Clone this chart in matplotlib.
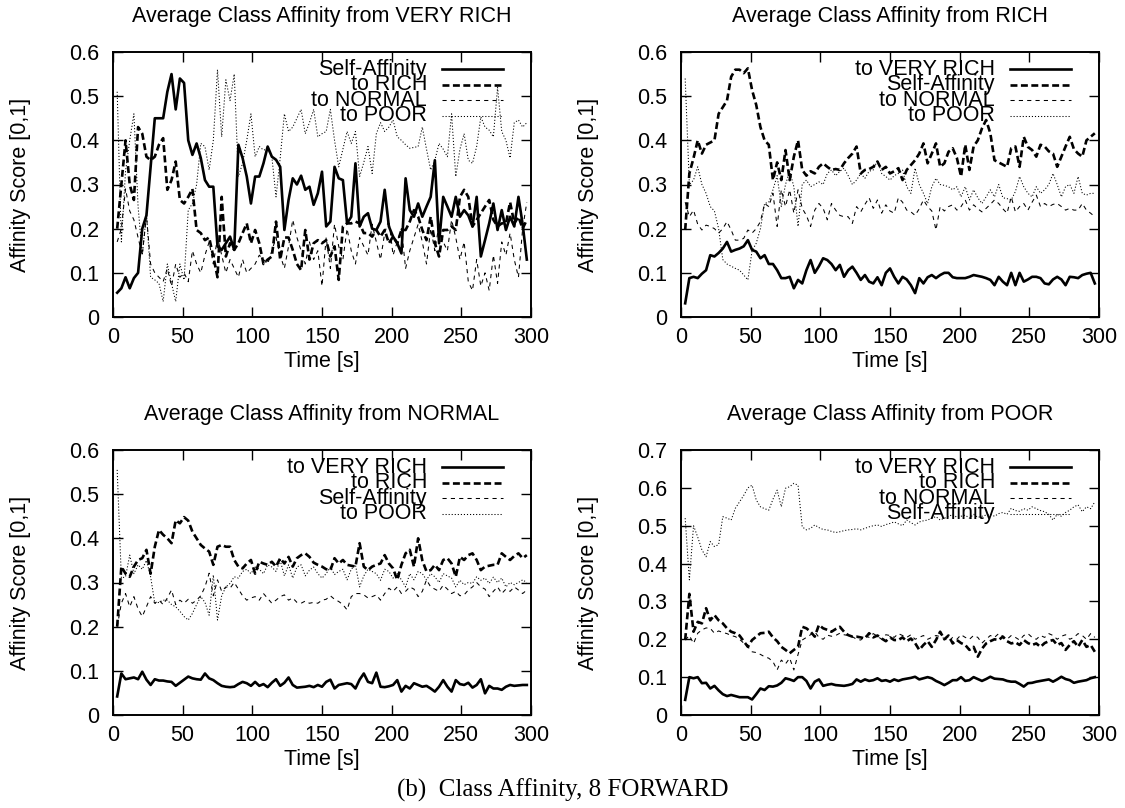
import numpy as np
import matplotlib
matplotlib.use("Agg")
import matplotlib.pyplot as plt
from matplotlib.ticker import FuncFormatter

# sample time of every point [s]
time_s = list(range(3, 300, 3))

# ---- from VERY RICH ----
vr_self = [0.055, 0.065, 0.09, 0.065, 0.088, 0.10, 0.20, 0.23, 0.34, 0.45,
           0.45, 0.45, 0.51, 0.55, 0.47, 0.54, 0.53, 0.40, 0.367, 0.393,
           0.36, 0.31, 0.295, 0.295, 0.16, 0.152, 0.167, 0.182, 0.152, 0.39,
           0.36, 0.318, 0.257, 0.318, 0.318, 0.348, 0.386, 0.363, 0.356, 0.34,
           0.197, 0.265, 0.314, 0.30, 0.32, 0.288, 0.295, 0.254, 0.28, 0.329,
           0.205, 0.216, 0.34, 0.314, 0.31, 0.212, 0.227, 0.348, 0.205, 0.227,
           0.235, 0.20, 0.197, 0.216, 0.288, 0.205, 0.182, 0.167, 0.144, 0.314,
           0.242, 0.227, 0.257, 0.227, 0.25, 0.272, 0.355, 0.167, 0.272, 0.25,
           0.227, 0.272, 0.227, 0.242, 0.23, 0.205, 0.272, 0.137, 0.174, 0.212,
           0.257, 0.197, 0.242, 0.197, 0.227, 0.205, 0.272, 0.21, 0.13]
vr_rich = [0.20, 0.30, 0.40, 0.30, 0.265, 0.43, 0.415, 0.363, 0.355, 0.363,
           0.39, 0.405, 0.288, 0.31, 0.352, 0.265, 0.257, 0.272, 0.29, 0.197,
           0.19, 0.174, 0.18, 0.137, 0.09, 0.272, 0.137, 0.167, 0.152, 0.167,
           0.19, 0.212, 0.167, 0.197, 0.167, 0.12, 0.13, 0.137, 0.216, 0.13,
           0.18, 0.18, 0.152, 0.12, 0.106, 0.197, 0.13, 0.167, 0.174, 0.167,
           0.174, 0.137, 0.16, 0.084, 0.205, 0.212, 0.212, 0.216, 0.212, 0.19,
           0.19, 0.182, 0.197, 0.182, 0.197, 0.167, 0.182, 0.167, 0.197, 0.197,
           0.216, 0.242, 0.227, 0.197, 0.174, 0.227, 0.167, 0.137, 0.197, 0.197,
           0.205, 0.197, 0.272, 0.288, 0.272, 0.205, 0.22, 0.235, 0.25, 0.265,
           0.22, 0.205, 0.212, 0.212, 0.26, 0.212, 0.227, 0.2, 0.22]
vr_normal = [0.17, 0.2, 0.29, 0.24, 0.22, 0.18, 0.14, 0.23, 0.12, 0.10,
             0.09, 0.08, 0.11, 0.07, 0.12, 0.09, 0.10, 0.08, 0.15, 0.12,
             0.10, 0.14, 0.17, 0.12, 0.18, 0.14, 0.10, 0.13, 0.11, 0.09,
             0.13, 0.10, 0.11, 0.12, 0.14, 0.13, 0.12, 0.15, 0.18, 0.14,
             0.11, 0.16, 0.22, 0.18, 0.15, 0.12, 0.17, 0.13, 0.15, 0.07,
             0.18, 0.11, 0.21, 0.16, 0.13, 0.20, 0.15, 0.12, 0.18, 0.16,
             0.14, 0.21, 0.17, 0.13, 0.19, 0.22, 0.14, 0.17, 0.20, 0.11,
             0.15, 0.18, 0.21, 0.17, 0.12, 0.20, 0.15, 0.21, 0.17, 0.15,
             0.22, 0.18, 0.13, 0.17, 0.08, 0.06, 0.13, 0.07, 0.10, 0.06,
             0.14, 0.076, 0.17, 0.14, 0.19, 0.13, 0.09, 0.20, 0.26]
vr_poor = [0.51, 0.17, 0.33, 0.40, 0.46, 0.25, 0.14, 0.235, 0.09, 0.084,
           0.076, 0.035, 0.12, 0.076, 0.035, 0.12, 0.084, 0.242, 0.257, 0.30,
           0.393, 0.386, 0.333, 0.40, 0.56, 0.408, 0.537, 0.49, 0.55, 0.318,
           0.348, 0.40, 0.46, 0.363, 0.386, 0.378, 0.38, 0.363, 0.272, 0.36,
           0.46, 0.42, 0.43, 0.45, 0.47, 0.415, 0.44, 0.47, 0.408, 0.415,
           0.42, 0.47, 0.40, 0.34, 0.38, 0.42, 0.393, 0.42, 0.318, 0.35,
           0.386, 0.325, 0.415, 0.44, 0.42, 0.43, 0.446, 0.408, 0.40, 0.39,
           0.382, 0.384, 0.386, 0.43, 0.38, 0.333, 0.355, 0.393, 0.38, 0.363,
           0.46, 0.318, 0.38, 0.415, 0.355, 0.348, 0.386, 0.453, 0.43, 0.423,
           0.408, 0.52, 0.42, 0.40, 0.36, 0.44, 0.446, 0.43, 0.44]

# ---- from RICH ----
r_vrich = [0.031, 0.088, 0.091, 0.088, 0.098, 0.106, 0.14, 0.137, 0.145, 0.155,
           0.17, 0.148, 0.152, 0.155, 0.16, 0.174, 0.152, 0.148, 0.133, 0.14,
           0.12, 0.12, 0.106, 0.088, 0.088, 0.091, 0.065, 0.084, 0.076, 0.106,
           0.129, 0.10, 0.115, 0.133, 0.129, 0.12, 0.106, 0.118, 0.091, 0.106,
           0.114, 0.10, 0.084, 0.095, 0.08, 0.076, 0.09, 0.072, 0.10, 0.11,
           0.091, 0.076, 0.091, 0.085, 0.072, 0.054, 0.088, 0.076, 0.09, 0.095,
           0.088, 0.095, 0.10, 0.10, 0.09, 0.088, 0.088, 0.088, 0.091, 0.095,
           0.093, 0.091, 0.088, 0.084, 0.072, 0.091, 0.08, 0.072, 0.10, 0.072,
           0.10, 0.08, 0.085, 0.091, 0.091, 0.088, 0.076, 0.074, 0.085, 0.091,
           0.085, 0.072, 0.091, 0.09, 0.088, 0.095, 0.098, 0.1, 0.076]
r_self = [0.197, 0.325, 0.36, 0.40, 0.37, 0.39, 0.395, 0.40, 0.46, 0.475,
          0.49, 0.544, 0.56, 0.56, 0.552, 0.563, 0.514, 0.48, 0.43, 0.40,
          0.39, 0.31, 0.35, 0.31, 0.378, 0.31, 0.363, 0.40, 0.333, 0.32,
          0.33, 0.325, 0.34, 0.348, 0.34, 0.333, 0.335, 0.333, 0.348, 0.36,
          0.37, 0.386, 0.325, 0.333, 0.335, 0.34, 0.352, 0.333, 0.34, 0.325,
          0.33, 0.337, 0.31, 0.333, 0.344, 0.355, 0.37, 0.393, 0.348, 0.37,
          0.393, 0.34, 0.348, 0.374, 0.382, 0.36, 0.318, 0.39, 0.333, 0.386,
          0.40, 0.427, 0.446, 0.416, 0.355, 0.35, 0.345, 0.34, 0.382, 0.386,
          0.34, 0.408, 0.385, 0.378, 0.363, 0.39, 0.386, 0.375, 0.37, 0.34,
          0.363, 0.386, 0.408, 0.38, 0.37, 0.363, 0.40, 0.408, 0.416]
r_normal = [0.26, 0.227, 0.242, 0.21, 0.197, 0.208, 0.205, 0.20, 0.19, 0.20,
            0.216, 0.197, 0.174, 0.174, 0.178, 0.197, 0.19, 0.20, 0.216, 0.257,
            0.25, 0.28, 0.205, 0.288, 0.25, 0.288, 0.235, 0.288, 0.246, 0.23,
            0.205, 0.242, 0.257, 0.246, 0.22, 0.257, 0.242, 0.23, 0.227, 0.227,
            0.212, 0.25, 0.238, 0.255, 0.27, 0.246, 0.265, 0.235, 0.254, 0.24,
            0.235, 0.27, 0.26, 0.242, 0.238, 0.23, 0.245, 0.265, 0.25, 0.24,
            0.197, 0.25, 0.24, 0.25, 0.254, 0.242, 0.25, 0.265, 0.242, 0.254,
            0.245, 0.238, 0.246, 0.255, 0.265, 0.257, 0.245, 0.235, 0.272, 0.238,
            0.25, 0.257, 0.242, 0.26, 0.276, 0.25, 0.257, 0.25, 0.255, 0.257,
            0.25, 0.242, 0.246, 0.242, 0.242, 0.257, 0.242, 0.235, 0.227]
r_poor = [0.54, 0.30, 0.31, 0.34, 0.30, 0.28, 0.25, 0.24, 0.20, 0.13,
          0.12, 0.115, 0.11, 0.106, 0.095, 0.084, 0.15, 0.167, 0.20, 0.257,
          0.26, 0.288, 0.32, 0.25, 0.30, 0.33, 0.295, 0.205, 0.30, 0.31,
          0.295, 0.30, 0.306, 0.30, 0.325, 0.333, 0.32, 0.33, 0.337, 0.32,
          0.30, 0.31, 0.325, 0.314, 0.33, 0.333, 0.355, 0.325, 0.318, 0.31,
          0.32, 0.325, 0.333, 0.295, 0.28, 0.337, 0.30, 0.28, 0.257, 0.295,
          0.314, 0.30, 0.298, 0.295, 0.288, 0.295, 0.272, 0.295, 0.265, 0.288,
          0.27, 0.257, 0.272, 0.288, 0.272, 0.30, 0.27, 0.268, 0.265, 0.284,
          0.318, 0.295, 0.28, 0.272, 0.295, 0.28, 0.288, 0.30, 0.325, 0.30,
          0.272, 0.295, 0.30, 0.28, 0.318, 0.28, 0.276, 0.28, 0.28]

# ---- from NORMAL ----
n_vrich = [0.042, 0.094, 0.081, 0.083, 0.085, 0.081, 0.098, 0.08, 0.068, 0.081,
           0.078, 0.078, 0.076, 0.075, 0.066, 0.073, 0.08, 0.087, 0.083, 0.081,
           0.08, 0.094, 0.083, 0.079, 0.072, 0.066, 0.064, 0.063, 0.064, 0.07,
           0.075, 0.072, 0.066, 0.075, 0.066, 0.07, 0.063, 0.073, 0.081, 0.066,
           0.073, 0.085, 0.068, 0.062, 0.063, 0.064, 0.066, 0.063, 0.068, 0.064,
           0.075, 0.08, 0.06, 0.068, 0.07, 0.072, 0.07, 0.06, 0.08, 0.094,
           0.075, 0.072, 0.096, 0.064, 0.063, 0.065, 0.068, 0.079, 0.053, 0.066,
           0.06, 0.072, 0.068, 0.064, 0.066, 0.06, 0.053, 0.064, 0.079, 0.064,
           0.053, 0.079, 0.07, 0.068, 0.073, 0.062, 0.068, 0.081, 0.049, 0.066,
           0.06, 0.06, 0.057, 0.064, 0.068, 0.066, 0.067, 0.068, 0.068]
n_rich = [0.20, 0.336, 0.32, 0.313, 0.336, 0.351, 0.355, 0.374, 0.32, 0.381,
          0.419, 0.408, 0.40, 0.389, 0.441, 0.434, 0.448, 0.44, 0.415, 0.40,
          0.385, 0.377, 0.37, 0.34, 0.381, 0.385, 0.381, 0.381, 0.351, 0.336,
          0.332, 0.343, 0.351, 0.32, 0.347, 0.343, 0.34, 0.347, 0.336, 0.355,
          0.343, 0.358, 0.336, 0.355, 0.362, 0.366, 0.358, 0.345, 0.34, 0.336,
          0.33, 0.328, 0.355, 0.343, 0.351, 0.34, 0.338, 0.336, 0.389, 0.336,
          0.328, 0.336, 0.34, 0.343, 0.362, 0.343, 0.332, 0.306, 0.34, 0.366,
          0.374, 0.336, 0.40, 0.35, 0.325, 0.328, 0.34, 0.328, 0.351, 0.355,
          0.343, 0.313, 0.358, 0.351, 0.362, 0.366, 0.351, 0.328, 0.336, 0.338,
          0.34, 0.34, 0.366, 0.358, 0.351, 0.36, 0.366, 0.355, 0.362]
n_self = [0.20, 0.253, 0.275, 0.245, 0.268, 0.24, 0.223, 0.245, 0.268, 0.253,
          0.26, 0.25, 0.265, 0.283, 0.25, 0.26, 0.253, 0.262, 0.253, 0.26,
          0.27, 0.29, 0.321, 0.27, 0.306, 0.28, 0.29, 0.287, 0.3, 0.285,
          0.27, 0.26, 0.265, 0.268, 0.26, 0.275, 0.264, 0.253, 0.26, 0.268,
          0.272, 0.26, 0.265, 0.255, 0.253, 0.258, 0.253, 0.255, 0.253, 0.26,
          0.262, 0.27, 0.262, 0.257, 0.25, 0.238, 0.268, 0.275, 0.275, 0.272,
          0.265, 0.268, 0.272, 0.26, 0.275, 0.287, 0.28, 0.29, 0.275, 0.28,
          0.29, 0.285, 0.268, 0.28, 0.306, 0.29, 0.285, 0.28, 0.294, 0.285,
          0.275, 0.28, 0.27, 0.272, 0.283, 0.29, 0.3, 0.29, 0.285, 0.268,
          0.28, 0.29, 0.275, 0.285, 0.28, 0.29, 0.283, 0.275, 0.283]
n_poor = [0.555, 0.31, 0.313, 0.362, 0.32, 0.34, 0.33, 0.35, 0.313, 0.253,
          0.255, 0.26, 0.26, 0.25, 0.245, 0.235, 0.223, 0.215, 0.23, 0.25,
          0.268, 0.255, 0.226, 0.317, 0.215, 0.27, 0.29, 0.298, 0.313, 0.31,
          0.325, 0.33, 0.32, 0.335, 0.33, 0.32, 0.34, 0.335, 0.325, 0.35,
          0.315, 0.34, 0.31, 0.335, 0.34, 0.315, 0.328, 0.335, 0.32, 0.31,
          0.32, 0.335, 0.318, 0.325, 0.33, 0.306, 0.33, 0.34, 0.29, 0.315,
          0.33, 0.325, 0.32, 0.305, 0.33, 0.325, 0.31, 0.32, 0.306, 0.29,
          0.32, 0.306, 0.325, 0.32, 0.306, 0.32, 0.313, 0.3, 0.32, 0.315,
          0.31, 0.29, 0.305, 0.295, 0.3, 0.298, 0.313, 0.305, 0.31, 0.298,
          0.312, 0.3, 0.31, 0.29, 0.3, 0.295, 0.3, 0.306, 0.3]

# ---- from POOR ----
p_vrich = [0.04, 0.10, 0.097, 0.10, 0.084, 0.085, 0.07, 0.077, 0.065, 0.055,
           0.05, 0.053, 0.05, 0.047, 0.047, 0.047, 0.041, 0.055, 0.07, 0.066,
           0.076, 0.075, 0.078, 0.085, 0.097, 0.094, 0.09, 0.10, 0.10, 0.09,
           0.07, 0.088, 0.094, 0.077, 0.08, 0.082, 0.079, 0.078, 0.077, 0.079,
           0.082, 0.094, 0.088, 0.094, 0.09, 0.092, 0.097, 0.09, 0.092, 0.088,
           0.094, 0.09, 0.094, 0.096, 0.098, 0.101, 0.094, 0.097, 0.10, 0.097,
           0.09, 0.085, 0.079, 0.085, 0.092, 0.092, 0.10, 0.09, 0.092, 0.10,
           0.095, 0.09, 0.095, 0.101, 0.096, 0.095, 0.094, 0.09, 0.088, 0.088,
           0.082, 0.075, 0.084, 0.085, 0.088, 0.09, 0.092, 0.094, 0.088, 0.094,
           0.101, 0.095, 0.092, 0.085, 0.088, 0.09, 0.092, 0.097, 0.1]
p_rich = [0.198, 0.32, 0.22, 0.246, 0.242, 0.282, 0.25, 0.264, 0.25, 0.242,
          0.229, 0.22, 0.216, 0.21, 0.195, 0.18, 0.198, 0.207, 0.216, 0.217,
          0.22, 0.205, 0.195, 0.18, 0.172, 0.163, 0.172, 0.18, 0.233, 0.229,
          0.22, 0.207, 0.238, 0.229, 0.225, 0.22, 0.227, 0.233, 0.22, 0.211,
          0.207, 0.207, 0.205, 0.202, 0.216, 0.205, 0.21, 0.202, 0.195, 0.205,
          0.198, 0.198, 0.205, 0.195, 0.202, 0.19, 0.172, 0.185, 0.195, 0.18,
          0.198, 0.22, 0.2, 0.21, 0.189, 0.198, 0.19, 0.185, 0.172, 0.18,
          0.154, 0.175, 0.189, 0.195, 0.2, 0.198, 0.207, 0.195, 0.189, 0.192,
          0.185, 0.198, 0.19, 0.185, 0.189, 0.18, 0.19, 0.195, 0.198, 0.185,
          0.19, 0.172, 0.185, 0.195, 0.18, 0.198, 0.18, 0.185, 0.167]
p_normal = [0.198, 0.21, 0.189, 0.216, 0.225, 0.23, 0.229, 0.216, 0.222, 0.218,
            0.215, 0.21, 0.207, 0.2, 0.19, 0.18, 0.167, 0.165, 0.16, 0.154,
            0.15, 0.141, 0.119, 0.145, 0.135, 0.15, 0.119, 0.16, 0.198, 0.205,
            0.212, 0.22, 0.205, 0.2, 0.211, 0.208, 0.21, 0.216, 0.212, 0.21,
            0.207, 0.2, 0.198, 0.21, 0.205, 0.215, 0.208, 0.2, 0.212, 0.21,
            0.205, 0.215, 0.21, 0.205, 0.212, 0.2, 0.205, 0.21, 0.2, 0.205,
            0.21, 0.207, 0.202, 0.195, 0.205, 0.2, 0.212, 0.205, 0.2, 0.21,
            0.205, 0.19, 0.2, 0.21, 0.205, 0.215, 0.208, 0.2, 0.21, 0.205,
            0.198, 0.21, 0.215, 0.205, 0.2, 0.21, 0.205, 0.215, 0.21, 0.2,
            0.208, 0.212, 0.2, 0.205, 0.215, 0.21, 0.2, 0.215, 0.205]
p_self = [0.52, 0.357, 0.50, 0.47, 0.436, 0.418, 0.458, 0.445, 0.45, 0.524,
          0.52, 0.515, 0.546, 0.563, 0.58, 0.6, 0.607, 0.568, 0.55, 0.545,
          0.541, 0.57, 0.594, 0.55, 0.599, 0.603, 0.612, 0.607, 0.497, 0.489,
          0.493, 0.502, 0.495, 0.49, 0.489, 0.485, 0.482, 0.484, 0.487, 0.489,
          0.49, 0.492, 0.489, 0.493, 0.497, 0.5, 0.502, 0.498, 0.503, 0.506,
          0.51, 0.505, 0.50, 0.515, 0.508, 0.502, 0.51, 0.513, 0.515, 0.52,
          0.524, 0.515, 0.52, 0.524, 0.53, 0.522, 0.525, 0.528, 0.52, 0.53,
          0.522, 0.525, 0.528, 0.53, 0.525, 0.532, 0.535, 0.53, 0.546, 0.54,
          0.538, 0.545, 0.541, 0.55, 0.545, 0.54, 0.537, 0.53, 0.515, 0.53,
          0.525, 0.535, 0.541, 0.55, 0.555, 0.537, 0.55, 0.545, 0.563]

titles = ["Average Class Affinity from VERY RICH", "Average Class Affinity from RICH",
          "Average Class Affinity from NORMAL", "Average Class Affinity from POOR"]
legend_labels = [["Self-Affinity", "to RICH", "to NORMAL", "to POOR"],
                 ["to VERY RICH", "Self-Affinity", "to NORMAL", "to POOR"],
                 ["to VERY RICH", "to RICH", "Self-Affinity", "to POOR"],
                 ["to VERY RICH", "to RICH", "to NORMAL", "Self-Affinity"]]
panel_series = [[vr_self, vr_rich, vr_normal, vr_poor],
                [r_vrich, r_self, r_normal, r_poor],
                [n_vrich, n_rich, n_self, n_poor],
                [p_vrich, p_rich, p_normal, p_self]]
y_max = [0.6, 0.6, 0.6, 0.7]

# gnuplot-like line types 1..4, all black
plt.rcParams['lines.scale_dashes'] = False
styles = [dict(color='black', lw=1.9, ls='-'),
          dict(color='black', lw=1.9, ls=(0, (5, 2.5))),
          dict(color='black', lw=0.75, ls=(0, (3, 3))),
          dict(color='black', lw=0.75, ls=(0, (0.8, 1.4)))]

plt.rcParams['font.family'] = ['Liberation Sans', 'DejaVu Sans']
FS = 15.5

fig = plt.figure(figsize=(11.25, 8.08), dpi=100)
# axes boxes in pixels (left, top) of a 1125x808 canvas
boxes = [(113, 52), (681, 52), (113, 450), (681, 450)]
W, H = 418, 265

for k, (bx, by) in enumerate(boxes):
    ax = fig.add_axes([bx / 1125, (808 - by - H) / 808, W / 1125, H / 808])
    for vals, st in zip(panel_series[k], styles):
        ax.plot(time_s[:len(vals)], vals, **st)

    ax.set_xlim(0, 300)
    ax.set_ylim(0, y_max[k])
    ax.set_xticks(np.arange(0, 301, 50))
    ax.set_yticks(np.arange(0, y_max[k] + 0.01, 0.1))
    ax.yaxis.set_major_formatter(FuncFormatter(lambda v, p: '0' if abs(v) < 1e-9 else f'{v:.1f}'))
    ax.tick_params(direction='in', top=True, right=True, length=7, width=1,
                   labelsize=FS)
    ax.tick_params(axis='x', pad=7)
    ax.tick_params(axis='y', pad=10)
    for sp in ax.spines.values():
        sp.set_linewidth(1.4)

    ax.text(0.5, 1.135, titles[k], transform=ax.transAxes, ha='center',
            va='center', fontsize=FS)
    ax.set_xlabel('Time [s]', fontsize=FS)
    ax.xaxis.set_label_coords(0.5, -0.13)
    ax.set_ylabel('Affinity Score [0,1]', fontsize=FS)
    ax.yaxis.set_label_coords(-0.195, 0.5)

    # key in the top right corner, text right-justified like gnuplot
    for i, (lab, st) in enumerate(zip(legend_labels[k], styles)):
        yy = 0.934 - i * 0.058
        ax.text(0.751, yy, lab, transform=ax.transAxes, ha='right', va='center',
                fontsize=FS)
        ax.plot([0.786, 0.934], [yy, yy], transform=ax.transAxes, **st)

fig.text(0.5, (808 - 790) / 808, '(b)  Class Affinity, 8 FORWARD', ha='center',
         va='center', fontsize=18, family=['Liberation Serif', 'DejaVu Serif'])

fig.savefig('out.png', dpi=100)
